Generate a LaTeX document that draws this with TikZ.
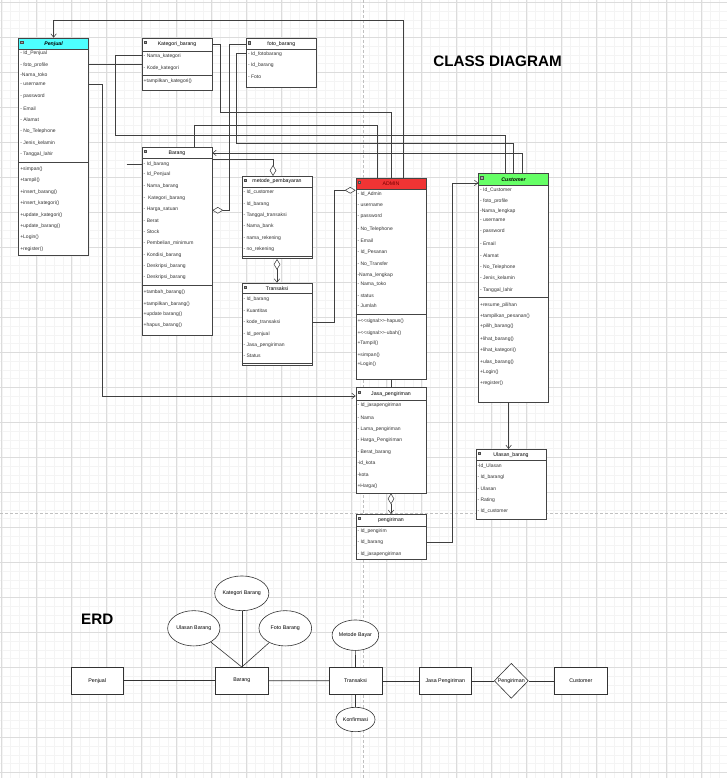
\documentclass[tikz,border=0pt]{standalone}
\usepackage{fontspec}
\setmainfont{Liberation Sans}
\usepackage{xcolor}
\usepackage{tikz}
\usetikzlibrary{arrows.meta,shapes.geometric}
\definecolor{gridmajor}{RGB}{220,220,220}
\definecolor{gridminor}{RGB}{244,244,244}
\definecolor{pagebreak}{RGB}{192,192,192}
\definecolor{linegray}{RGB}{68,68,68}
\definecolor{hdrcyan}{RGB}{77,255,255}
\definecolor{hdrred}{RGB}{240,52,52}
\definecolor{hdrgreen}{RGB}{102,255,102}
\definecolor{admintext}{RGB}{120,0,0}

\begin{document}
\begin{tikzpicture}[x=1pt, y=-1pt,
  >={Straight Barb[length=3.5pt,width=5.5pt]},
  diam/.tip={Diamond[fill=white,length=11pt,width=6.5pt]},
  cls/.style={draw=linegray, fill=white, line width=0.6pt, anchor=north west, inner sep=0pt, minimum width=70pt},
  hdr/.style={draw=linegray, line width=0.6pt, anchor=north west, inner sep=0pt, minimum width=70pt, font=\fontsize{5.2}{6}\selectfont},
  row/.style={anchor=west, inner sep=0pt, font=\fontsize{5}{6}\selectfont, text=black!80},
  icon/.style={draw=black!70, fill=black!35, minimum size=2.4pt, inner sep=0pt, line width=0.3pt},
  conn/.style={draw=black!75, line width=0.55pt},
  ent/.style={draw=black!80, line width=0.7pt, fill=white, inner sep=0pt, minimum width=52.7pt, minimum height=26.7pt, font=\fontsize{5.3}{6}\selectfont},
  attr/.style={ellipse, draw=black!80, line width=0.6pt, fill=white, inner sep=0pt, font=\fontsize{5.3}{6}\selectfont},
  rel/.style={diamond, draw=black!80, line width=0.6pt, fill=white, inner sep=0pt, font=\fontsize{5.3}{6}\selectfont},
  title/.style={font=\bfseries\fontsize{15.2}{18}\selectfont}
]
\useasboundingbox (0,0) rectangle (727,778);
\fill[white] (0,0) rectangle (727,778);

% background grid
\foreach \i in {0,...,83} {
    \draw[gridminor, line width=0.4pt] ({1.7+8.75*\i},0) -- ++(0,778);
}
\foreach \j in {0,...,88} {
    \draw[gridminor, line width=0.4pt] (0,{2.3+8.75*\j}) -- ++(727,0);
}
\foreach \i in {0,...,20} {
    \draw[gridmajor, line width=0.5pt] ({1.7+35*\i},0) -- ++(0,778);
}
\foreach \j in {0,...,22} {
    \draw[gridmajor, line width=0.5pt] (0,{2.3+35*\j}) -- ++(727,0);
}
% page breaks
\draw[pagebreak, line width=0.9pt, dash pattern=on 3pt off 2pt] (363.3,0) -- (363.3,778);
\draw[pagebreak, line width=0.9pt, dash pattern=on 3pt off 2pt] (0,513.7) -- (727,513.7);

% titles
\node[title] (cd-title) at (497.5,61.7) {CLASS DIAGRAM};
\node[title] (erd-title) at (97.2,619.3) {ERD};

% Penjual
\node[cls, minimum height=217.3pt] (penjual) at (18.3,37.7) {};
\node[hdr, fill=hdrcyan, minimum height=11.6pt] (penjual-h) at (18.3,37.7) {\textbf{\textit{Penjual}}};
\node[icon] at ([xshift=3.4pt,yshift=1.8pt]penjual-h.west) {};
\draw[draw=linegray, line width=0.6pt] (18.3,162.3) -- (88.3,162.3);
\foreach \y/\t in {53.7/{- Id\_Penjual}, 65/{- foto\_profile}, 75.3/{-Nama\_toko}, 84/{- username},
    96.3/{- password}, 108.7/{- Email}, 120/{- Alamat}, 131.3/{- No\_Telephone},
    143/{- Jenis\_kelamin}, 154.3/{- Tanggal\_lahir}, 169/{+simpan()}, 180.3/{+tampil()},
    192.3/{+insert\_barang()}, 203.3/{+insert\_kategori()}, 215/{+update\_kategori()},
    226.3/{+update\_barang()}, 237.3/{+Login()}, 249/{+register()}} {
    \node[row] at (20.1,\y) {\t};
}

% Kategori_barang
\node[cls, minimum height=52.3pt] (kategori) at (141.7,37.7) {};
\node[hdr, minimum height=13.3pt] (kategori-h) at (141.7,37.7) {Kategori\_barang};
\node[icon] at ([xshift=3.4pt,yshift=2.2pt]kategori-h.west) {};
\draw[draw=linegray, line width=0.6pt] (141.7,75.7) -- (211.7,75.7);
\foreach \y/\t in {56.3/{- Nama\_kategori}, 68.3/{- Kode\_kategori}, 81.7/{+tampilkan\_kategori()}} {
    \node[row] at (143.5,\y) {\t};
}

% foto_barang
\node[cls, minimum height=48.4pt] (foto) at (246,38.3) {};
\node[hdr, minimum height=11pt] (foto-h) at (246,38.3) {foto\_barang};
\node[icon] at ([xshift=3.4pt,yshift=1.6pt]foto-h.west) {};
\foreach \y/\t in {54.3/{- Id\_fotobarang}, 65.7/{- Id\_barang}, 77.3/{- Foto}} {
    \node[row] at (247.8,\y) {\t};
}

% Barang
\node[cls, minimum height=188pt] (barang) at (141.7,147) {};
\node[hdr, minimum height=11.3pt] (barang-h) at (141.7,147) {Barang};
\node[icon] at ([xshift=3.4pt,yshift=1.6pt]barang-h.west) {};
\draw[draw=linegray, line width=0.6pt] (141.7,285.3) -- (211.7,285.3);
\foreach \y/\t in {164.3/{- Id\_barang}, 174.7/{- Id\_Penjual}, 186.7/{- Nama\_barang},
    198/{-\ \ Kategori\_barang}, 209/{- Harga\_satuan}, 220.7/{- Berat}, 232/{- Stock},
    243/{- Pembelian\_minimum}, 255/{- Kondisi\_barang}, 266/{- Deskripsi\_barang},
    277.7/{- Deskripsi\_barang}, 292.7/{+tambah\_barang()}, 304/{+tampilkan\_barang()},
    314.7/{+update barang()}, 325.7/{+hapus\_barang()}} {
    \node[row] at (143.5,\y) {\t};
}

% metode_pembayaran
\node[cls, minimum height=82.3pt] (metode) at (241.7,176) {};
\node[hdr, minimum height=10.7pt] (metode-h) at (241.7,176) {metode\_pembayaran};
\node[icon] at ([xshift=3.4pt,yshift=1.4pt]metode-h.west) {};
\draw[draw=linegray, line width=0.6pt] (241.7,256.4) -- (311.7,256.4);
\foreach \y/\t in {192.3/{- Id\_customer}, 204/{- Id\_barang}, 215/{- Tanggal\_transaksi},
    226/{- Nama\_bank}, 238.3/{- nama\_rekening}, 249/{- no\_rekening}} {
    \node[row] at (243.3,\y) {\t};
}

% Transaksi
\node[cls, minimum height=82.3pt] (transaksi) at (241.7,282.7) {};
\node[hdr, minimum height=10.6pt] (transaksi-h) at (241.7,282.7) {Transaksi};
\node[icon] at ([xshift=3.4pt,yshift=1.4pt]transaksi-h.west) {};
\draw[draw=linegray, line width=0.6pt] (241.7,363) -- (311.7,363);
\foreach \y/\t in {299.3/{- Id\_barang}, 310.7/{- Kuantitas}, 322.3/{- kode\_transaksi},
    334/{- Id\_penjual}, 345/{- Jasa\_pengiriman}, 356/{- Status}} {
    \node[row] at (243.3,\y) {\t};
}

% ADMIN
\node[cls, minimum height=201.3pt] (admin) at (355.7,177.7) {};
\node[hdr, fill=hdrred, text=admintext, minimum height=11.3pt] (admin-h) at (355.7,177.7) {ADMIN};
\node[icon] at ([xshift=3.4pt,yshift=1.6pt]admin-h.west) {};
\draw[draw=linegray, line width=0.6pt] (355.7,314.3) -- (425.7,314.3);
\foreach \y/\t in {194/{- Id\_Admin}, 205/{- username}, 216/{- password}, 229.3/{- No\_Telephone},
    241/{- Email}, 252/{- Id\_Pesanan}, 264/{- No\_Transfer}, 275/{-Nama\_lengkap},
    284/{- Nama\_toko}, 295.7/{- status}, 306/{- Jumlah}, 321/{+<{}<signal>{}>-hapus()},
    333/{+<{}<signal>{}>-ubah()}, 343.7/{+Tampil()}, 355/{+simpan()}, 364/{+Login()}} {
    \node[row] at (357.3,\y) {\t};
}

% Customer
\node[cls, minimum height=228.4pt] (customer) at (478.3,173.3) {};
\node[hdr, fill=hdrgreen, minimum height=11.7pt] (customer-h) at (478.3,173.3) {\textbf{\textit{Customer}}};
\node[icon] at ([xshift=3.4pt,yshift=2pt]customer-h.west) {};
\draw[draw=linegray, line width=0.6pt] (478.3,297.7) -- (548.3,297.7);
\foreach \y/\t in {190/{- Id\_Customer}, 201/{- foto\_profile}, 211.7/{-Nama\_lengkap},
    220.3/{- username}, 231/{- password}, 244/{- Email}, 255.7/{- Alamat},
    267/{- No\_Telephone}, 278/{- Jenis\_kelamin}, 290/{- Tanggal\_lahir},
    305/{+resume\_pilihan}, 316/{+tampilkan\_pesanan()}, 326.7/{+pilih\_barang()},
    339/{+lihat\_barang()}, 350/{+lihat\_kategori()}, 362.3/{+ulas\_barang()},
    372.7/{+Login()}, 383.7/{+register()}} {
    \node[row] at (479.9,\y) {\t};
}

% Jasa_pengiriman
\node[cls, minimum height=105.4pt] (jasa) at (355.7,387.3) {};
\node[hdr, minimum height=12.7pt] (jasa-h) at (355.7,387.3) {Jasa\_pengiriman};
\node[icon] at ([xshift=3.4pt,yshift=2pt]jasa-h.west) {};
\foreach \y/\t in {405.7/{- Id\_jasapengiriman}, 417.7/{- Nama}, 429.3/{- Lama\_pengiriman},
    440.3/{- Harga\_Pengiriman}, 452/{- Berat\_barang}, 463.3/{-id\_kota}, 474.3/{-kota},
    486.7/{+Harga()}} {
    \node[row] at (357.3,\y) {\t};
}

% Ulasan_barang
\node[cls, minimum height=70pt] (ulasan) at (475.7,449) {};
\node[hdr, minimum height=11pt] (ulasan-h) at (475.7,449) {Ulasan\_barang};
\node[icon] at ([xshift=3.4pt,yshift=1.6pt]ulasan-h.west) {};
\foreach \y/\t in {466/{-Id\_Ulasan}, 477.3/{- Id\_barangl}, 488.3/{- Ulasan}, 500/{- Rating},
    511/{- Id\_customer}} {
    \node[row] at (477.3,\y) {\t};
}

% pengiriman
\node[cls, minimum height=45pt] (pengiriman) at (355.7,514) {};
\node[hdr, minimum height=11.7pt] (pengiriman-h) at (355.7,514) {pengiriman};
\node[icon] at ([xshift=3.4pt,yshift=2pt]pengiriman-h.west) {};
\foreach \y/\t in {531/{- Id\_pengirim}, 542.3/{- Id\_barang}, 554/{- Id\_jasapengiriman}} {
    \node[row] at (357.3,\y) {\t};
}

% class connectors
\draw[conn, ->] ([xshift=12.6pt]admin.north) -- ++(0,-157.7) -| (penjual.north);
\draw[conn] (kategori-h.east) -- ++(8.3,0) -- ++(0,68) -| (admin.north);
\draw[conn] ([xshift=17pt]barang.north) -- ++(0,-21.3) -| ([xshift=-14pt]admin.north);
\draw[conn] ([yshift=8.85pt]kategori.west) -- ++(-26.7,0) -- ++(0,80) -| ([xshift=-8.3pt]customer.north);
\draw[conn] ([yshift=9.2pt]foto.west) -- ++(-9.3,0) -- ++(0,89.4) -| (customer.north);
\draw[conn, ->] ([xshift=9pt]customer.north) |- (barang-h.east);
\draw[conn, diam-] ([yshift=31pt]barang.east) -- ++(16.6,0) |- (foto-h.west);
\draw[conn, -diam] ([yshift=81.7pt]barang.east) -| ([xshift=-4pt]metode.north);
\draw[conn, diam->] (metode.south) -- (transaksi.north);
\draw[conn, -diam] ([yshift=1.5pt]transaksi.east) -- ++(22.3,0) |- ([yshift=88.35pt]admin.west);
\draw[conn] (penjual.east |- kategori.west) -- (kategori.west);
\draw[conn, ->] ([yshift=62pt]penjual.east) -- ++(13.4,0) |- ([yshift=-2pt]jasa-h.west);
\coordinate (barang-in) at (126.7,164.3);
\draw[conn] (barang-in) -- (barang.west |- barang-in);
\draw[conn] (admin.south) -- (jasa.north);
\draw[conn, diam->] (jasa.south) -- (pengiriman.north);
\draw[conn, ->] ([yshift=-5.8pt]pengiriman.east) -- ++(26,0) |- ([yshift=-3.5pt]customer-h.west);
\draw[conn, ->] ([xshift=-5pt]customer.south) -- ([xshift=-5pt]customer.south |- ulasan.north);

% ERD
\node[ent] (e-penjual) at (97.2,680.7) {Penjual};
\node[ent] (e-barang) at (241.8,680.7) {Barang};
\node[ent] (e-transaksi) at (355.5,680.8) {Transaksi};
\node[ent] (e-jasa) at (445.3,680.8) {Jasa Pengiriman};
\node[rel, minimum width=34pt, minimum height=35pt] (e-pengiriman) at (511.3,680.8) {Pengiriman};
\node[ent] (e-customer) at (580.8,680.8) {Customer};
\node[attr, minimum width=52.3pt, minimum height=35.3pt] (e-ulasan) at (193.8,628.3) {Ulasan Barang};
\node[attr, minimum width=52.3pt, minimum height=34.7pt] (e-kategori) at (241.8,593.3) {Kategori Barang};
\node[attr, minimum width=52.7pt, minimum height=35.3pt] (e-foto) at (285.3,628.3) {Foto Barang};
\node[attr, minimum width=46pt, minimum height=30.5pt] (e-metode) at (355.4,635.2) {Metode Bayar};
\node[attr, minimum width=39pt, minimum height=24.4pt] (e-konfirmasi) at (355.5,719.5) {Konfirmasi};

\draw[draw=black!80, line width=0.6pt] (e-penjual) -- (e-barang);
\draw[draw=black!80, line width=0.6pt] (e-barang) -- (e-transaksi);
\draw[draw=black!80, line width=0.6pt] (e-transaksi) -- (e-jasa);
\draw[draw=black!80, line width=0.6pt] (e-jasa) -- (e-pengiriman);
\draw[draw=black!80, line width=0.6pt] (e-pengiriman) -- (e-customer);
\draw[draw=black!80, line width=0.6pt] (e-ulasan) -- (e-barang.north);
\draw[draw=black!80, line width=0.6pt] (e-kategori) -- (e-barang.north);
\draw[draw=black!80, line width=0.6pt] (e-foto) -- (e-barang.north);
\draw[draw=black!80, line width=0.6pt] (e-metode) -- (e-transaksi);
\draw[draw=black!80, line width=0.6pt] (e-transaksi) -- (e-konfirmasi);
\end{tikzpicture}
\end{document}
